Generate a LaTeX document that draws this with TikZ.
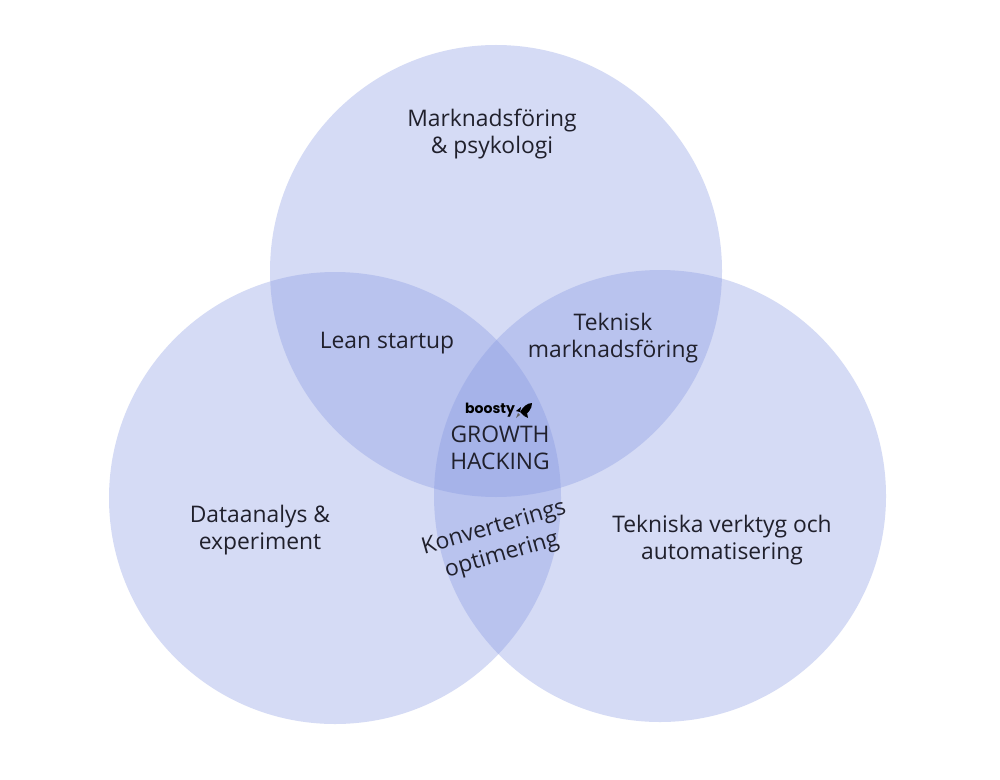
\documentclass[tikz,border=0pt]{standalone}
\usepackage{fontspec}
\setmainfont{Open Sans}
\newfontfamily\logofont{Poppins}
\definecolor{venn}{RGB}{132,150,226}
\definecolor{ink}{RGB}{32,32,44}
\tikzset{
  venncircle/.style={fill=venn,fill opacity=0.34,draw=none},
  label/.style={align=center,text=ink,font=\fontsize{6.5}{7.7}\selectfont,inner sep=0pt}
}
\begin{document}
\begin{tikzpicture}
  \useasboundingbox (0,0) rectangle (10,7.79);
  \fill [white] (0,0) rectangle (10,7.79);
  \fill [venncircle] (4.96,5.08) circle [radius=2.26];
  \fill [venncircle] (3.35,2.81) circle [radius=2.26];
  \fill [venncircle] (6.60,2.83) circle [radius=2.26];
  \node [label] (marketing) at (4.92,6.45) {Marknadsföring\\\& psykologi};
  \node [label] (lean) at (3.87,4.36) {Lean startup};
  \node [label] (technical) at (6.13,4.41) {Teknisk\\marknadsföring};
  \node [label] (growth) at (5.00,3.31) {GROWTH\\HACKING};
  \node [label] (data) at (2.60,2.49) {Dataanalys \&\\experiment};
  \node [label] (tools) at (7.22,2.39) {Tekniska verktyg och\\automatisering};
  \node [label,rotate=16,font=\fontsize{6.5}{8.1}\selectfont] (conversion) at (4.98,2.37) {Konverterings\\optimering};
  \node [text=black,inner sep=0pt,font=\logofont\bfseries\fontsize{4}{5}\selectfont] (logo) at (4.90,3.69) {boosty};
  % rocket
  \fill [black] (5.32,3.76) .. controls (5.27,3.76) and (5.23,3.72) .. (5.20,3.67)
    -- (5.24,3.63) .. controls (5.28,3.66) and (5.32,3.70) .. (5.32,3.76);
  \fill [black] (5.21,3.72) -- (5.16,3.68) -- (5.20,3.67) -- cycle;
  \fill [black] (5.28,3.61) -- (5.27,3.66) -- (5.24,3.63) -- cycle;
  \fill [black!60] (5.20,3.64) -- (5.16,3.61) -- (5.18,3.66) -- cycle;
\end{tikzpicture}
\end{document}
